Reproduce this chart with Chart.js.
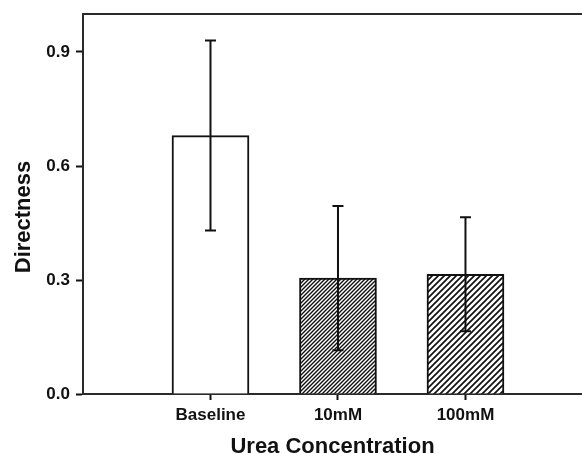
<!DOCTYPE html>
<html>
<head>
<meta charset="utf-8">
<script src="https://cdn.jsdelivr.net/npm/chart.js@4/dist/chart.umd.min.js"></script>
<style>
  html, body { margin: 0; padding: 0; background: #ffffff; }
  #wrap { width: 582px; height: 454px; }
</style>
</head>
<body>
<div id="wrap"><canvas id="c" width="582" height="454"></canvas></div>
<script>
// ---- data ----
const categories = ['Baseline', '10mM', '100mM'];
const means = [0.68, 0.305, 0.315];
const errors = [0.25, 0.19, 0.15];
const yTicks = [0.0, 0.3, 0.6, 0.9];
const xTitle = 'Urea Concentration';
const yTitle = 'Directness';

function hatch(size, lw) {
  const c = document.createElement('canvas');
  c.width = size; c.height = size;
  const g = c.getContext('2d');
  g.fillStyle = '#ffffff';
  g.fillRect(0, 0, size, size);
  g.strokeStyle = '#111111';
  g.lineWidth = lw;
  g.beginPath();
  g.moveTo(-1, size + 1); g.lineTo(size + 1, -1);
  g.moveTo(-1, 1); g.lineTo(1, -1);
  g.moveTo(size - 1, size + 1); g.lineTo(size + 1, size - 1);
  g.stroke();
  return document.getElementById('c').getContext('2d').createPattern(c, 'repeat');
}

const fills = ['#ffffff', hatch(4, 1.4), hatch(6, 1.7)];

const errorBars = {
  id: 'errorBars',
  afterDatasetsDraw(chart) {
    const ctx = chart.ctx;
    const meta = chart.getDatasetMeta(0);
    const ys = chart.scales.y;
    ctx.save();
    ctx.strokeStyle = '#111111';
    ctx.lineWidth = 2;
    meta.data.forEach((bar, i) => {
      const x = bar.x;
      const top = ys.getPixelForValue(means[i] + errors[i]);
      const bot = ys.getPixelForValue(means[i] - errors[i]);
      ctx.beginPath();
      ctx.moveTo(x, top); ctx.lineTo(x, bot);
      ctx.moveTo(x - 5.5, top); ctx.lineTo(x + 5.5, top);
      ctx.moveTo(x - 5.5, bot); ctx.lineTo(x + 5.5, bot);
      ctx.stroke();
    });
    ctx.restore();
  }
};

const frame = {
  id: 'frame',
  afterDraw(chart) {
    const a = chart.chartArea;
    const ctx = chart.ctx;
    ctx.save();
    ctx.strokeStyle = '#2a2a2a';
    ctx.lineWidth = 2;
    ctx.beginPath();
    ctx.moveTo(a.left - 1, a.top);
    ctx.lineTo(a.right + 1, a.top);
    ctx.stroke();
    // y-axis title, placed slightly below the plot's middle as in the reference
    ctx.fillStyle = '#111111';
    ctx.font = 'bold 22px "Liberation Sans", Arial, sans-serif';
    ctx.textAlign = 'center';
    ctx.textBaseline = 'middle';
    ctx.translate(24, (a.top + a.bottom) / 2 + 13);
    ctx.rotate(-Math.PI / 2);
    ctx.fillText(yTitle, 0, 0);
    ctx.restore();
  }
};

new Chart(document.getElementById('c'), {
  type: 'bar',
  data: {
    datasets: [{
      data: means.map((v, i) => ({ x: i + 1, y: v })),
      backgroundColor: fills,
      borderColor: '#111111',
      borderWidth: 2,
      borderSkipped: 'start',
      barThickness: 77
    }]
  },
  options: {
    responsive: false,
    animation: false,
    devicePixelRatio: 1,
    layout: { padding: { top: 14, right: 0, left: 0, bottom: 0 } },
    plugins: { legend: { display: false }, tooltip: { enabled: false } },
    scales: {
      x: {
        type: 'linear',
        min: 0,
        max: 3.914,
        offset: false,
        afterBuildTicks(s) { s.ticks = categories.map((c, i) => ({ value: i + 1 })); },
        afterFit(s) { s.height = 60; s.paddingLeft = 0; s.paddingRight = 0; },
        ticks: {
          callback: (v) => categories[v - 1],
          color: '#111111',
          font: { family: 'Liberation Sans, Arial, sans-serif', size: 17, weight: 'bold' },
          padding: 5,
          maxRotation: 0,
          autoSkip: false
        },
        grid: { offset: false, drawOnChartArea: false, drawTicks: true, tickLength: 6, tickColor: '#111111', tickWidth: 2 },
        border: { display: true, color: '#2a2a2a', width: 2 },
        title: {
          display: true,
          text: xTitle,
          color: '#111111',
          font: { family: 'Liberation Sans, Arial, sans-serif', size: 22, weight: 'bold', lineHeight: 1 },
          padding: { top: 0, bottom: -4 }
        }
      },
      y: {
        min: 0,
        max: 1.0,
        afterBuildTicks(s) { s.ticks = yTicks.map(v => ({ value: v })); },
        afterFit(s) { s.width = 83; s.paddingTop = 0; s.paddingBottom = 0; },
        ticks: {
          callback: (v) => v.toFixed(1),
          color: '#111111',
          font: { family: 'Liberation Sans, Arial, sans-serif', size: 17, weight: 'bold' },
          padding: 6
        },
        grid: { drawOnChartArea: false, drawTicks: true, tickLength: 7, tickColor: '#111111', tickWidth: 2 },
        border: { display: true, color: '#2a2a2a', width: 2 },
        title: { display: false, text: yTitle }
      }
    }
  },
  plugins: [errorBars, frame]
});
</script>
</body>
</html>
